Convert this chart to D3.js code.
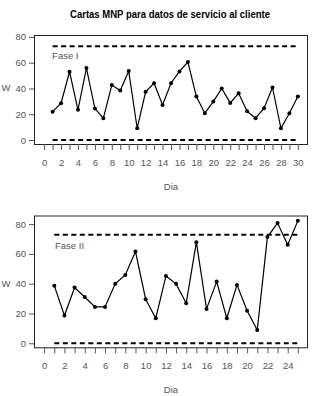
<!DOCTYPE html>
<html>
<head>
<meta charset="utf-8">
<script src="https://cdn.jsdelivr.net/npm/d3@7"></script>
<style>
  body { margin: 0; background: #fff; }
  text { font-family: "Liberation Sans Narrow", "Liberation Sans", Arial, sans-serif; }
</style>
</head>
<body>
<svg id="chart"></svg>
<script>
// Data
const title = "Cartas MNP para datos de servicio al cliente";
const days1 = d3.range(1, 31);
const w1 = [22, 28.6, 53, 23.4, 55.8, 24.4, 16.9, 42.6, 38.4, 53.5, 9.1, 37.4, 44.1, 27.2, 44.1,
            53.2, 60.5, 33.7, 20.8, 29.8, 40, 28.8, 36.3, 22.3, 16.9, 24.7, 40.8, 9.1, 20.8, 33.7];
const days2 = d3.range(1, 26);
const w2 = [38.7, 18.6, 37.4, 31.1, 24.4, 24.4, 39.9, 45.9, 61.6, 29.6, 16.8, 45.2, 39.9, 26.9, 67.9,
            23.1, 41.4, 16.8, 39.2, 21.9, 8.9, 71.3, 80.7, 66.1, 82.2];
const ucl = 72.8;
const lcl = 0;
const yTicks = [0, 20, 40, 60, 80];
const xTicks1 = [0, 2, 4, 6, 8, 10, 12, 14, 16, 18, 20, 22, 24, 26, 28, 30];
const xTicks2 = [0, 2, 4, 6, 8, 10, 12, 14, 16, 18, 20, 22, 24];
const phaseLabels = ["Fase I", "Fase II"];

const width = 333, height = 396;

const svg = d3.select("#chart")
  .attr("width", width)
  .attr("height", height);

svg.append("rect").attr("width", width).attr("height", height).attr("fill", "#fff");

svg.append("text")
  .attr("x", 170)
  .attr("y", 18)
  .attr("text-anchor", "middle")
  .style("font-size", "10.5px")
  .style("font-weight", "bold")
  .attr("textLength", 200)
  .attr("lengthAdjust", "spacingAndGlyphs")
  .text(title);

function drawPanel(opts) {
  const xScale = d3.scaleLinear().domain(opts.xDomain).range([34, 308]);
  const yScale = d3.scaleLinear().domain(opts.yDomain).range([opts.bottom, opts.top]);

  const g = svg.append("g");

  // box
  g.append("rect")
    .attr("x", 34.5)
    .attr("y", opts.top + 0.5)
    .attr("width", 273)
    .attr("height", opts.bottom - opts.top)
    .attr("fill", "none")
    .attr("stroke", "#222")
    .attr("stroke-width", 1);

  // y axis (ticks only, labels horizontal)
  const yAxis = d3.axisLeft(yScale).tickValues(yTicks).tickSize(5).tickPadding(3);
  const ya = g.append("g").attr("transform", "translate(34,0)").call(yAxis);
  ya.select(".domain").remove();
  ya.selectAll("line").attr("stroke", "#555");
  ya.selectAll("text").attr("fill", "#555").style("font-size", "9.5px");

  // x axis, tick at every day, label every second
  const xAxis = d3.axisBottom(xScale)
    .tickValues(d3.range(0, opts.xMax + 1))
    .tickSize(6)
    .tickPadding(9)
    .tickFormat(d => opts.xTicks.includes(d) ? d : "");
  const xa = g.append("g").attr("transform", `translate(0, ${opts.bottom})`).call(xAxis);
  xa.select(".domain").remove();
  xa.selectAll("line").attr("stroke", "#555");
  xa.selectAll("text").attr("fill", "#555").style("font-size", "9.5px");

  // axis titles
  g.append("text")
    .attr("x", 171)
    .attr("y", opts.bottom + 46)
    .attr("text-anchor", "middle")
    .attr("fill", "#555")
    .style("font-size", "9.5px")
    .text("Dia");

  g.append("text")
    .attr("x", 6)
    .attr("y", yScale(40) + 3)
    .attr("text-anchor", "middle")
    .attr("fill", "#555")
    .style("font-size", "9.5px")
    .text("W");

  // control limits
  [ucl, lcl].forEach(v => {
    g.append("line")
      .attr("x1", xScale(opts.days[0]))
      .attr("x2", xScale(opts.days[opts.days.length - 1]))
      .attr("y1", yScale(v))
      .attr("y2", yScale(v))
      .attr("stroke", "#000")
      .attr("stroke-width", 2)
      .attr("stroke-dasharray", "5,3.5");
  });

  g.append("text")
    .attr("x", xScale(2.5))
    .attr("y", yScale(65) + 3)
    .attr("text-anchor", "middle")
    .attr("fill", "#555")
    .style("font-size", "9.5px")
    .text(opts.label);

  const line = d3.line()
    .x((d, i) => xScale(opts.days[i]))
    .y(d => yScale(d));

  g.append("path")
    .datum(opts.values)
    .attr("fill", "none")
    .attr("stroke", "#000")
    .attr("stroke-width", 1.2)
    .attr("d", line);

  g.selectAll("circle")
    .data(opts.values)
    .enter()
    .append("circle")
    .attr("cx", (d, i) => xScale(opts.days[i]))
    .attr("cy", d => yScale(d))
    .attr("r", 2)
    .attr("fill", "#000");
}

drawPanel({
  days: days1, values: w1, label: phaseLabels[0],
  xDomain: [-1.2, 31.2], yDomain: [-3.1, 81.5],
  top: 35, bottom: 144, xMax: 30, xTicks: xTicks1
});

drawPanel({
  days: days2, values: w2, label: phaseLabels[1],
  xDomain: [-1, 26], yDomain: [-2.7, 85.8],
  top: 215.5, bottom: 347.3, xMax: 25, xTicks: xTicks2
});
</script>
</body>
</html>
